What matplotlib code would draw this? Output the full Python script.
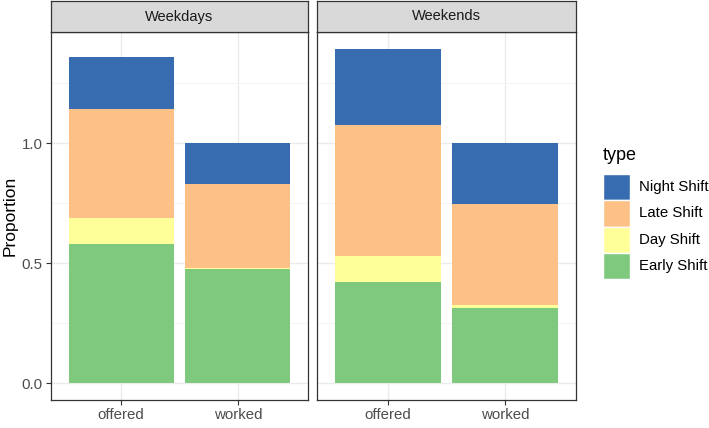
import matplotlib
matplotlib.use("Agg")
import matplotlib.pyplot as plt
from matplotlib.patches import Rectangle

plt.rcParams['font.family'] = ['Liberation Sans', 'DejaVu Sans']

# data (stacked proportions)
facets = ['Weekdays', 'Weekends']
groups = ['offered', 'worked']
types = ['Early Shift', 'Day Shift', 'Late Shift', 'Night Shift']  # bottom -> top
colors = {'Early Shift': '#7FC97F', 'Day Shift': '#FFFF99',
          'Late Shift': '#FDC086', 'Night Shift': '#386CB0'}

weekdays_early = [0.580, 0.474]
weekdays_day = [0.110, 0.008]
weekdays_late = [0.453, 0.347]
weekdays_night = [0.214, 0.171]

weekends_early = [0.422, 0.315]
weekends_day = [0.110, 0.010]
weekends_late = [0.544, 0.422]
weekends_night = [0.317, 0.253]

data = {
    'Weekdays': [weekdays_early, weekdays_day, weekdays_late, weekdays_night],
    'Weekends': [weekends_early, weekends_day, weekends_late, weekends_night],
}

W, H = 709, 428
fig = plt.figure(figsize=(W / 100, H / 100), dpi=100)


def px(x0, y0, x1, y1):
    # pixel box (top-left origin) -> figure fraction rect
    return [x0 / W, 1 - y1 / H, (x1 - x0) / W, (y1 - y0) / H]


# overall max height for shared y scale (ggplot 5% expansion)
ymax = max(sum(v[i] for v in data[f]) for f in facets for i in range(2))
pad = ymax * 0.05
dark = '#333333'

panels = [(51, 308), (317, 576)]
for k, (f, (x0, x1)) in enumerate(zip(facets, panels)):
    ax = fig.add_axes(px(x0, 32, x1, 400))
    ax.set_facecolor('white')
    bottoms = [0.0, 0.0]
    for t, vals in zip(types, data[f]):
        ax.bar([1, 2], vals, width=0.9, bottom=bottoms, color=colors[t],
               edgecolor='none', zorder=3)
        bottoms = [b + v for b, v in zip(bottoms, vals)]
    ax.set_xlim(0.4, 2.6)
    ax.set_ylim(-pad, ymax + pad)
    ax.set_xticks([1, 2])
    ax.set_xticklabels(groups)
    ax.set_yticks([0, 0.5, 1.0])
    ax.set_yticks([0.25, 0.75, 1.25], minor=True)
    ax.grid(True, which='major', color='#EBEBEB', lw=1.0, zorder=0)
    ax.grid(True, which='minor', axis='y', color='#F3F3F3', lw=0.6, zorder=0)
    ax.set_axisbelow(True)
    for s in ax.spines.values():
        s.set_color(dark)
        s.set_linewidth(0.9)
    ax.tick_params(axis='both', which='major', length=3.5, width=0.8,
                   color=dark, labelcolor='#4D4D4D', labelsize=10.8, pad=2.5)
    ax.tick_params(axis='y', which='minor', length=0)
    if k == 0:
        ax.set_yticklabels(['0.0', '0.5', '1.0'])
        ax.set_ylabel('Proportion', fontsize=12.5, labelpad=3)
    else:
        ax.tick_params(axis='y', labelleft=False, length=0)

    sx = fig.add_axes(px(x0, 1, x1, 32))
    sx.set_facecolor('#D9D9D9')
    sx.set_xticks([])
    sx.set_yticks([])
    for s in sx.spines.values():
        s.set_color(dark)
        s.set_linewidth(0.9)
    sx.text(0.5, 0.5, f, ha='center', va='center', fontsize=10.5,
            color='#1A1A1A', transform=sx.transAxes)

# legend drawn in figure pixels
fig.text(603 / W, 1 - 156 / H, 'type', fontsize=13, ha='left', va='center')
key_top = 174
key_h = 26.3
for i, t in enumerate(reversed(types)):
    y0 = key_top + i * key_h
    r = px(603, y0, 630, y0 + key_h)
    fig.patches.append(Rectangle((r[0], r[1]), r[2], r[3], transform=fig.transFigure,
                                 facecolor=colors[t], edgecolor='white', lw=1.0))
    fig.text(639 / W, 1 - (y0 + key_h / 2) / H, t, fontsize=10.8,
             ha='left', va='center')

fig.savefig('out.png', dpi=100)
